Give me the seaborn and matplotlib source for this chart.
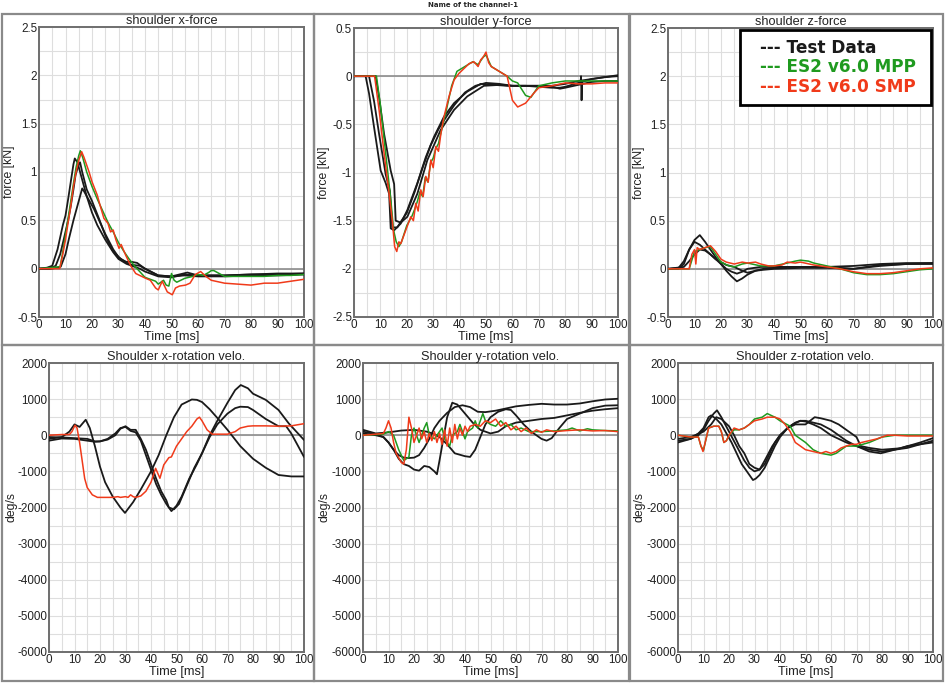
import matplotlib
matplotlib.use("Agg")
import matplotlib.pyplot as plt
import seaborn as sns
from matplotlib.patches import Rectangle
from matplotlib.ticker import MultipleLocator, FormatStrFormatter

# ---- shoulder x-force ----
XF_T1_T = [0, 3, 5, 7, 9, 10, 11, 12, 13, 13.5, 14.5, 16, 18, 20, 22, 25, 28, 30, 33, 35, 38, 40, 45, 50, 55, 60, 70, 80, 90, 100]
XF_T1_V = [0, 0.01, 0.03, 0.2, 0.45, 0.55, 0.72, 0.9, 1.08, 1.14, 1.1, 0.95, 0.75, 0.58, 0.45, 0.3, 0.17, 0.1, 0.05, 0.03, 0.0, -0.03, -0.08, -0.09, -0.06, -0.07, -0.07, -0.06, -0.06, -0.05]
XF_T2_T = [0, 4, 6.3, 8, 9.4, 11, 12, 13, 13.8, 15, 15.5, 16.3, 18, 20, 22.6, 25.2, 27.7, 30.8, 33, 35, 37, 40, 45, 50, 56, 60, 70, 80, 90, 100]
XF_T2_V = [0, 0.0, 0.03, 0.15, 0.31, 0.5, 0.65, 0.82, 0.97, 1.08, 1.1, 1.0, 0.82, 0.7, 0.52, 0.33, 0.19, 0.1, 0.07, 0.07, 0.06, 0.0, -0.07, -0.08, -0.04, -0.07, -0.07, -0.06, -0.05, -0.05]
XF_T3_T = [0, 5, 8.2, 10, 11.3, 13, 14.5, 16.3, 17, 18.2, 20.7, 23, 25, 28, 30, 33, 35, 38, 40, 45, 50, 55, 60, 70, 80, 90, 100]
XF_T3_V = [0, 0, 0.02, 0.15, 0.31, 0.5, 0.65, 0.83, 0.8, 0.74, 0.62, 0.48, 0.36, 0.2, 0.12, 0.06, 0.04, 0.03, 0.0, -0.07, -0.08, -0.07, -0.08, -0.08, -0.07, -0.07, -0.06]
XF_MPP_T = [0, 8, 9, 10, 11, 12, 13, 14, 15, 15.6, 16.5, 18, 20, 22, 24, 26, 28, 30, 32, 34, 36, 38, 40, 42, 44, 45, 47, 48, 49, 50, 51, 52, 55, 58, 60, 62, 64, 65, 66, 68, 70, 75, 80, 85, 90, 95, 100]
XF_MPP_V = [0, 0.02, 0.18, 0.35, 0.52, 0.7, 0.88, 1.05, 1.17, 1.22, 1.15, 1.0, 0.85, 0.72, 0.6, 0.48, 0.38, 0.27, 0.18, 0.1, 0.03, -0.03, -0.09, -0.11, -0.13, -0.16, -0.12, -0.17, -0.18, -0.05, -0.12, -0.14, -0.1, -0.08, -0.06, -0.07, -0.04, -0.02, -0.02, -0.05, -0.08, -0.08, -0.08, -0.08, -0.07, -0.07, -0.06]
XF_SMP_T = [0, 7.8, 9, 10, 11, 12, 13, 14, 15, 16.1, 17, 18.9, 20, 22, 23, 24.5, 26, 27, 28, 29, 30.2, 31, 32.7, 34.6, 36.5, 38, 40.3, 42, 44, 45, 46.5, 48.4, 50.3, 51.5, 53, 55.3, 57, 59, 61, 63, 65, 70, 75, 80, 85, 90, 95, 100]
XF_SMP_V = [0, 0, 0.15, 0.3, 0.48, 0.65, 0.85, 1.0, 1.12, 1.21, 1.15, 1.0, 0.9, 0.76, 0.66, 0.52, 0.47, 0.38, 0.4, 0.3, 0.21, 0.25, 0.14, 0.03, -0.05, -0.07, -0.1, -0.12, -0.2, -0.22, -0.13, -0.24, -0.27, -0.2, -0.18, -0.17, -0.15, -0.06, -0.03, -0.08, -0.12, -0.15, -0.16, -0.17, -0.15, -0.15, -0.13, -0.11]

# ---- shoulder y-force ----
YF_T1_T = [0, 4.4, 5.7, 7.6, 10.1, 12, 13.3, 13.9, 15.2, 17.7, 20.2, 24, 27.2, 30.3, 34.1, 37.9, 42.9, 48, 53, 58, 65, 70, 75, 80, 85, 90, 95, 100]
YF_T1_V = [0, 0, -0.18, -0.53, -0.98, -1.11, -1.22, -1.58, -1.6, -1.53, -1.39, -1.11, -0.84, -0.63, -0.42, -0.28, -0.16, -0.08, -0.09, -0.1, -0.1, -0.1, -0.1, -0.08, -0.05, -0.03, -0.01, 0.0]
YF_T2_T = [0, 5.7, 7.6, 9.5, 12, 13.6, 14.5, 16.4, 18, 20, 23, 26, 29, 32, 35, 38, 42, 46, 50, 55, 60, 65, 70, 75, 78, 80, 85, 85.8, 86.0, 86.2, 86.4, 90, 95, 100]
YF_T2_V = [0, 0, -0.26, -0.6, -1.02, -1.19, -1.57, -1.57, -1.5, -1.42, -1.2, -0.95, -0.72, -0.55, -0.42, -0.3, -0.17, -0.1, -0.07, -0.08, -0.1, -0.1, -0.11, -0.12, -0.12, -0.11, -0.07, -0.07, 0.0, -0.25, -0.06, -0.03, -0.01, 0.01]
YF_T3_T = [0, 8.2, 9.5, 11.4, 13.9, 15.2, 15.8, 17.7, 20.2, 24, 27.8, 32.8, 37.9, 42.9, 49.2, 55.5, 60, 65, 70, 75, 78, 80, 85, 90, 95, 100]
YF_T3_V = [0, 0, -0.22, -0.6, -0.98, -1.12, -1.5, -1.52, -1.46, -1.22, -0.87, -0.56, -0.35, -0.21, -0.1, -0.09, -0.1, -0.1, -0.1, -0.11, -0.13, -0.12, -0.09, -0.06, -0.05, -0.05]
YF_MPP_T = [0, 8.5, 10, 12, 14, 15, 16, 17, 18, 20, 22, 23, 24, 25, 26, 27, 28, 29, 30, 31, 32, 33, 35, 37, 39, 42, 45, 47, 49, 50, 52, 55, 58, 60, 62, 65, 67, 70, 75, 80, 90, 100]
YF_MPP_V = [0, 0, -0.3, -0.8, -1.3, -1.6, -1.72, -1.77, -1.72, -1.55, -1.45, -1.38, -1.3, -1.2, -1.25, -1.05, -1.1, -0.9, -0.85, -0.75, -0.7, -0.58, -0.35, -0.1, 0.05, 0.1, 0.15, 0.12, 0.2, 0.22, 0.1, 0.05, 0.0, -0.05, -0.07, -0.2, -0.22, -0.1, -0.07, -0.05, -0.05, -0.05]
YF_SMP_T = [0, 7.8, 9.5, 11.4, 13.3, 14.5, 15.4, 16.2, 17, 17.7, 19.6, 21.5, 22.5, 23.4, 24.3, 25.3, 26.2, 27.2, 28.1, 29.1, 30, 31, 32, 32.9, 34.1, 36, 37.9, 39.8, 41.7, 43.6, 45.4, 47, 48, 49, 50, 51, 52, 55, 58, 60, 62, 65, 68, 70, 75, 80, 85, 90, 95, 100]
YF_SMP_V = [0, 0, -0.35, -0.8, -1.22, -1.5, -1.77, -1.82, -1.72, -1.74, -1.6, -1.46, -1.5, -1.32, -1.4, -1.18, -1.25, -1.04, -1.1, -0.87, -0.95, -0.73, -0.78, -0.6, -0.42, -0.21, -0.04, 0.03, 0.08, 0.13, 0.15, 0.1, 0.17, 0.2, 0.25, 0.14, 0.1, 0.05, 0.0, -0.25, -0.32, -0.28, -0.18, -0.12, -0.1, -0.07, -0.08, -0.08, -0.07, -0.07]

# ---- shoulder z-force ----
ZF_T1_T = [0, 4, 6, 8, 10, 12, 14, 16, 18, 20, 22, 24, 26, 28, 30, 33, 36, 40, 50, 60, 70, 80, 90, 100]
ZF_T1_V = [0, 0, 0.05, 0.2, 0.3, 0.35, 0.28, 0.2, 0.12, 0.05, -0.02, -0.08, -0.13, -0.1, -0.06, -0.02, -0.01, 0, 0.01, 0.01, 0.0, 0.03, 0.05, 0.06]
ZF_T2_T = [0, 4, 6, 8, 10, 12, 14, 16, 18, 20, 22, 24, 26, 28, 30, 35, 40, 50, 60, 70, 80, 90, 100]
ZF_T2_V = [0, 0.01, 0.08, 0.2, 0.28, 0.25, 0.2, 0.15, 0.1, 0.05, 0.0, -0.03, -0.05, -0.03, 0.0, 0.02, 0.02, 0.02, 0.02, 0.03, 0.05, 0.06, 0.06]
ZF_T3_T = [0, 6, 8, 10, 12, 14, 16, 18, 20, 22, 25, 28, 30, 33, 36, 40, 50, 60, 70, 75, 80, 90, 100]
ZF_T3_V = [0, 0.02, 0.08, 0.15, 0.2, 0.19, 0.15, 0.1, 0.07, 0.04, 0.02, -0.02, -0.04, -0.02, 0, 0.01, 0.02, 0.02, 0, 0.02, 0.04, 0.05, 0.05]
ZF_MPP_T = [0, 8, 10, 12, 14, 16, 18, 20, 23, 25, 28, 30, 35, 40, 45, 48, 50, 53, 55, 60, 65, 70, 75, 80, 85, 90, 95, 100]
ZF_MPP_V = [0, 0, 0.18, 0.2, 0.22, 0.23, 0.15, 0.07, 0.03, 0.02, 0.05, 0.06, 0.03, 0.03, 0.06, 0.08, 0.09, 0.08, 0.06, 0.03, 0, -0.04, -0.06, -0.06, -0.05, -0.03, -0.01, 0]
ZF_SMP_T = [0, 8, 9, 10, 10.5, 11, 12, 14, 16, 18, 20, 22, 25, 28, 30, 33, 35, 38, 40, 43, 45, 48, 50, 55, 60, 65, 70, 75, 80, 85, 90, 95, 100]
ZF_SMP_V = [0, 0, 0.15, 0.2, 0.05, 0.22, 0.2, 0.22, 0.24, 0.18, 0.1, 0.07, 0.05, 0.07, 0.06, 0.07, 0.05, 0.03, 0.03, 0.04, 0.07, 0.06, 0.07, 0.04, 0.02, 0, -0.03, -0.05, -0.05, -0.04, -0.02, 0, 0.01]

# ---- shoulder x-rotation velocity ----
XR_T1_T = [0, 5, 8, 10, 12, 14.4, 16, 18, 20, 22, 25, 28, 29.8, 33, 36, 40, 43, 46, 49, 52, 56, 58, 60, 63, 66, 70, 75, 80, 85, 90, 95, 100]
XR_T1_V = [-100, -50, 100, 300, 230, 430, 200, -300, -870, -1300, -1700, -2000, -2150, -1850, -1500, -1000, -550, 0, 500, 850, 990, 980, 920, 720, 480, 150, -300, -650, -900, -1100, -1140, -1140]
XR_T2_T = [0, 5, 10, 15, 18, 20, 23, 26, 28, 30, 32, 34, 36, 38, 40, 42, 44, 46, 48, 50, 52, 55, 58, 60, 63, 66, 70, 73, 75.2, 78, 80, 85, 90, 94, 97, 100]
XR_T2_V = [-150, -90, -100, -150, -180, -170, -100, 50, 200, 230, 120, 80, -150, -550, -950, -1350, -1650, -1900, -2100, -1950, -1700, -1200, -800, -500, 0, 400, 900, 1250, 1390, 1300, 1150, 980, 700, 330, 100, -130]
XR_T3_T = [0, 5, 10, 15, 18, 20, 23, 26, 28, 30, 32, 34, 36, 38, 40, 42, 44, 46, 47, 49, 51, 54, 57, 60, 63, 66, 70, 73, 75, 78, 80, 85, 90, 93, 95, 100]
XR_T3_V = [-50, -60, -80, -100, -170, -170, -120, 0, 180, 250, 150, 150, -100, -400, -800, -1200, -1550, -1800, -2000, -2050, -1900, -1400, -900, -500, -50, 300, 600, 750, 790, 780, 700, 450, 250, 250, 50, -600]
XR_SMP_T = [0, 5, 8, 9, 10.2, 11, 12, 13, 14, 15, 17, 19, 22, 25, 27, 28, 30, 31, 32, 33, 34, 36, 38, 40, 41.8, 43.5, 45, 47, 48, 50, 52, 54, 56, 58, 59, 60, 62, 64, 66, 70, 73, 75, 78, 80, 85, 90, 95, 100]
XR_SMP_V = [0, 20, 20, 100, 280, 200, -200, -700, -1200, -1450, -1650, -1720, -1720, -1720, -1700, -1720, -1700, -1720, -1650, -1700, -1720, -1680, -1550, -1300, -915, -1190, -820, -620, -600, -300, -100, 100, 250, 450, 500, 400, 150, 30, 30, 30, 100, 200, 250, 260, 260, 250, 260, 320]

# ---- shoulder y-rotation velocity ----
YR_T1_T = [0, 5, 8, 10, 12, 14, 16, 18, 20, 22, 24, 26, 28, 29, 30, 31, 33, 35, 37, 40, 43, 46, 50, 53, 56, 60, 65, 70, 75, 80, 85, 90, 95, 100]
YR_T1_V = [100, 30, -50, -200, -400, -650, -800, -850, -950, -980, -850, -880, -1000, -1080, -700, -300, 500, 900, 850, 600, 350, 150, 50, 100, 250, 350, 400, 450, 480, 550, 620, 680, 720, 750]
YR_T2_T = [0, 5, 10, 15, 20, 25, 28, 30, 33, 36, 40, 42, 44, 46, 48, 50, 53, 56, 58, 60, 63, 66, 70, 72, 74, 77, 80, 85, 90, 95, 100]
YR_T2_V = [150, 50, 80, 130, 150, 100, 30, -50, -250, -500, -580, -600, -400, -50, 300, 500, 650, 720, 700, 550, 300, 100, -100, -150, -80, 200, 450, 600, 750, 820, 830]
YR_T3_T = [0, 5, 8, 10, 12, 14, 16, 18, 20, 22, 24, 26, 28, 30, 33, 36, 39, 42, 45, 48, 52, 56, 60, 65, 70, 75, 80, 85, 90, 95, 100]
YR_T3_V = [50, 0, -50, -200, -400, -550, -620, -630, -620, -550, -350, -100, 200, 400, 620, 780, 830, 780, 650, 640, 680, 740, 800, 840, 870, 850, 850, 880, 940, 990, 1010]
YR_MPP_T = [0, 8, 10, 12, 14, 16, 18, 19, 20, 22, 24, 25, 26, 28, 30, 31, 32, 34, 35, 37, 38, 40, 41, 43, 44, 45, 47, 48, 50, 52, 54, 56, 58, 60, 62, 65, 70, 75, 80, 82, 85, 88, 90, 95, 100]
YR_MPP_V = [0, 30, 100, 0, -400, -700, -600, 0, 200, -200, 200, 350, 0, -100, 100, 200, -100, -300, 0, 100, 300, -100, 100, 200, 400, 200, 600, 400, 300, 250, 400, 250, 300, 150, 200, 100, 100, 120, 150, 200, 120, 180, 150, 130, 120]
YR_SMP_T = [0, 5, 8, 9, 10, 11, 12, 13, 15, 16, 17, 18, 19, 20, 21, 22, 23, 24, 25, 26, 27, 28, 29, 30, 31, 32, 33, 34, 35, 36, 37, 38, 39, 40, 41, 42, 44, 46, 48, 50, 52, 54, 56, 58, 60, 62, 64, 66, 68, 70, 72, 75, 80, 85, 90, 95, 100]
YR_SMP_V = [0, 30, 50, 200, 400, 200, -200, -500, -750, -800, -400, 500, 200, -200, 0, 200, -100, 100, -200, 50, -150, 100, -200, 50, -250, 150, -300, 200, -200, 300, -100, 200, 0, 250, 100, 250, 300, 250, 400, 350, 450, 250, 350, 150, 250, 100, 200, 50, 150, 80, 150, 100, 130, 150, 120, 130, 100]

# ---- shoulder z-rotation velocity ----
ZR_T1_T = [0, 5, 8, 10, 12, 14, 15.3, 17, 20, 23, 26, 28, 30, 32, 34, 37, 40, 43, 46, 48, 50, 53, 56, 60, 63, 66, 70, 75, 80, 85, 90, 95, 100]
ZR_T1_V = [-200, -100, 0, 150, 400, 600, 690, 500, 100, -300, -700, -900, -1000, -950, -700, -300, 0, 200, 350, 400, 380, 300, 200, 0, -100, -200, -300, -400, -450, -400, -300, -250, -200]
ZR_T2_T = [0, 5, 8, 10, 12, 13, 15, 17, 19, 21, 23, 25, 27, 29.4, 30.5, 32, 34, 36, 38, 40, 43, 45, 48, 50, 53, 56, 60, 63, 66, 70, 75, 79.5, 85, 90, 95, 100]
ZR_T2_V = [-150, -100, 50, 200, 500, 550, 450, 300, 50, -200, -500, -800, -1000, -1240, -1200, -1100, -900, -600, -300, -50, 200, 300, 400, 400, 350, 300, 150, 0, -150, -300, -450, -500, -400, -350, -250, -150]
ZR_T3_T = [0, 5, 10, 13, 15, 17, 20, 22, 24, 26, 28, 30, 32, 34, 36, 38, 40, 43, 46, 50, 53.6, 56, 60, 63, 66, 70, 71.7, 75, 80, 87.3, 95, 100]
ZR_T3_V = [-100, -50, 100, 300, 500, 450, 250, 0, -300, -500, -800, -900, -950, -800, -500, -200, 0, 200, 300, 300, 500, 470, 400, 300, 150, -50, -300, -350, -400, -360, -200, -80]
ZR_MPP_T = [0, 5, 8, 9, 10, 11, 12, 14, 16, 17, 18, 19, 20, 22, 24, 26, 28, 30, 33, 35, 38, 40, 44, 46, 48, 50, 53, 56, 60, 62, 64, 66, 70, 75, 80, 85, 90, 100]
ZR_MPP_V = [0, -50, -50, -300, -420, -100, 200, 250, 250, 100, -200, -150, 0, 150, 150, 200, 300, 450, 500, 600, 500, 400, 250, 0, -100, -200, -400, -500, -550, -500, -400, -300, -300, -200, -50, 0, 0, 0]
ZR_SMP_T = [0, 5, 8, 9, 9.8, 11, 12, 14, 16, 17, 18, 19, 20, 22, 24, 26, 28, 30, 33, 35, 38, 40, 42, 44, 46, 48, 50, 53, 56, 58, 60, 62, 64, 66, 68, 70, 72, 75, 78, 80, 82, 85, 90, 100]
ZR_SMP_V = [0, -50, -50, -300, -450, -100, 200, 250, 250, 100, -200, -150, 0, 200, 150, 200, 300, 400, 450, 500, 500, 450, 300, 100, -200, -300, -400, -450, -500, -450, -500, -450, -350, -300, -250, -250, -200, -150, -100, -50, 0, 0, -20, -20]

TITLES = ["shoulder x-force", "shoulder y-force", "shoulder z-force",
          "Shoulder x-rotation velo.", "Shoulder y-rotation velo.", "Shoulder z-rotation velo."]
YLABELS = ["force [kN]", "force [kN]", "force [kN]", "deg/s", "deg/s", "deg/s"]
YLIMS = [(-0.5, 2.5), (-2.5, 0.5), (-0.5, 2.5), (-6000, 2000), (-6000, 2000), (-6000, 2000)]
LEGEND_LABELS = ["Test Data", "ES2 v6.0 MPP", "ES2 v6.0 SMP"]

C_TEST = "#1a1a1a"
C_MPP = "#1f9a1f"
C_SMP = "#f03a1a"

panels = [
    dict(test=[(XF_T1_T, XF_T1_V), (XF_T2_T, XF_T2_V), (XF_T3_T, XF_T3_V)],
         mpp=(XF_MPP_T, XF_MPP_V), smp=(XF_SMP_T, XF_SMP_V)),
    dict(test=[(YF_T1_T, YF_T1_V), (YF_T2_T, YF_T2_V), (YF_T3_T, YF_T3_V)],
         mpp=(YF_MPP_T, YF_MPP_V), smp=(YF_SMP_T, YF_SMP_V)),
    dict(test=[(ZF_T1_T, ZF_T1_V), (ZF_T2_T, ZF_T2_V), (ZF_T3_T, ZF_T3_V)],
         mpp=(ZF_MPP_T, ZF_MPP_V), smp=(ZF_SMP_T, ZF_SMP_V)),
    dict(test=[(XR_T1_T, XR_T1_V), (XR_T2_T, XR_T2_V), (XR_T3_T, XR_T3_V)],
         mpp=None, smp=(XR_SMP_T, XR_SMP_V)),
    dict(test=[(YR_T1_T, YR_T1_V), (YR_T2_T, YR_T2_V), (YR_T3_T, YR_T3_V)],
         mpp=(YR_MPP_T, YR_MPP_V), smp=(YR_SMP_T, YR_SMP_V)),
    dict(test=[(ZR_T1_T, ZR_T1_V), (ZR_T2_T, ZR_T2_V), (ZR_T3_T, ZR_T3_V)],
         mpp=(ZR_MPP_T, ZR_MPP_V), smp=(ZR_SMP_T, ZR_SMP_V)),
]

sns.set_theme(style="white")
plt.rcParams["font.family"] = ["Liberation Sans", "DejaVu Sans"]
plt.rcParams["axes.unicode_minus"] = False

W, H = 946, 683
fig = plt.figure(figsize=(W / 100, H / 100), dpi=100)
fig.patch.set_facecolor("white")

# axes boxes in pixels: left, right, top, bottom
AX_PX = [(39, 304, 27, 317), (354, 618, 28, 317), (668, 933, 28, 317),
         (49, 304, 363, 652), (363, 618, 363, 652), (678, 933, 363, 652)]
FRAMES_PX = [(2, 314, 14, 345), (314, 629, 14, 345), (630, 943, 14, 345),
             (2, 314, 345, 681), (314, 629, 345, 681), (630, 943, 345, 681)]
YLABEL_OFF_PX = [-30, -30, -29, -38, -39, -39]

for (l, r, t, b) in FRAMES_PX:
    fig.patches.append(Rectangle((l / W, 1 - b / H), (r - l) / W, (b - t) / H,
                                 transform=fig.transFigure, fill=False,
                                 edgecolor="#8a8a8a", lw=1.6, zorder=0))

fig.text(0.5, 1 - 5 / H, "Name of the channel-1", ha="center", va="center",
         fontsize=5, fontweight="bold", family=["DejaVu Sans"])

for i, p in enumerate(panels):
    l, r, t, b = AX_PX[i]
    ax = fig.add_axes([l / W, 1 - b / H, (r - l) / W, (b - t) / H])
    ax.set_facecolor("white")

    for (tt, vv) in p["test"]:
        sns.lineplot(x=tt, y=vv, ax=ax, color=C_TEST, lw=1.3, sort=False,
                     estimator=None, zorder=3)
    if p["mpp"] is not None:
        sns.lineplot(x=p["mpp"][0], y=p["mpp"][1], ax=ax, color=C_MPP, lw=1.1,
                     sort=False, estimator=None, zorder=4)
    sns.lineplot(x=p["smp"][0], y=p["smp"][1], ax=ax, color=C_SMP, lw=1.1,
                 sort=False, estimator=None, zorder=5)

    ax.axhline(0, color="#8c8c8c", lw=1.2, zorder=2)
    ax.set_xlim(0, 100)
    ax.set_ylim(*YLIMS[i])
    ax.xaxis.set_major_locator(MultipleLocator(10))
    ax.xaxis.set_minor_locator(MultipleLocator(5))
    if i < 3:
        ax.yaxis.set_major_locator(MultipleLocator(0.5))
        ax.yaxis.set_minor_locator(MultipleLocator(0.25))
        ax.yaxis.set_major_formatter(FormatStrFormatter("%g"))
    else:
        ax.yaxis.set_major_locator(MultipleLocator(1000))
        ax.yaxis.set_minor_locator(MultipleLocator(500))
    ax.grid(which="both", color="#dedede", lw=0.8, zorder=0)
    ax.set_axisbelow(True)
    ax.tick_params(which="both", length=0, labelsize=8.4, pad=1.4, colors="#222222")
    for s in ax.spines.values():
        s.set_color("#6e6e6e")
        s.set_linewidth(1.4)

    ax.set_title(TITLES[i], fontsize=9.2, pad=2, color="#222222")
    ax.set_xlabel("Time [ms]", fontsize=9.2, labelpad=0, color="#222222")
    ax.set_ylabel(YLABELS[i], fontsize=8.8, color="#222222", va="center")
    ax.yaxis.set_label_coords(YLABEL_OFF_PX[i] / (r - l), 0.5)

    if i == 2:
        handles = [plt.Line2D([], [], color="none") for _ in LEGEND_LABELS]
        leg = ax.legend(handles, ["--- " + s + " " for s in LEGEND_LABELS],
                        loc="upper right", bbox_to_anchor=(0.993, 0.994),
                        handlelength=0.6, handletextpad=0, fancybox=False,
                        framealpha=1, borderpad=0.55, labelspacing=0.08,
                        borderaxespad=0,
                        prop={"family": "DejaVu Sans", "weight": "bold", "size": 12.2})
        leg.get_frame().set_edgecolor("black")
        leg.get_frame().set_linewidth(2)
        for txt, c in zip(leg.get_texts(), [C_TEST, C_MPP, C_SMP]):
            txt.set_color(c)
        leg.set_zorder(10)

fig.savefig("out.png", dpi=100, facecolor="white")
